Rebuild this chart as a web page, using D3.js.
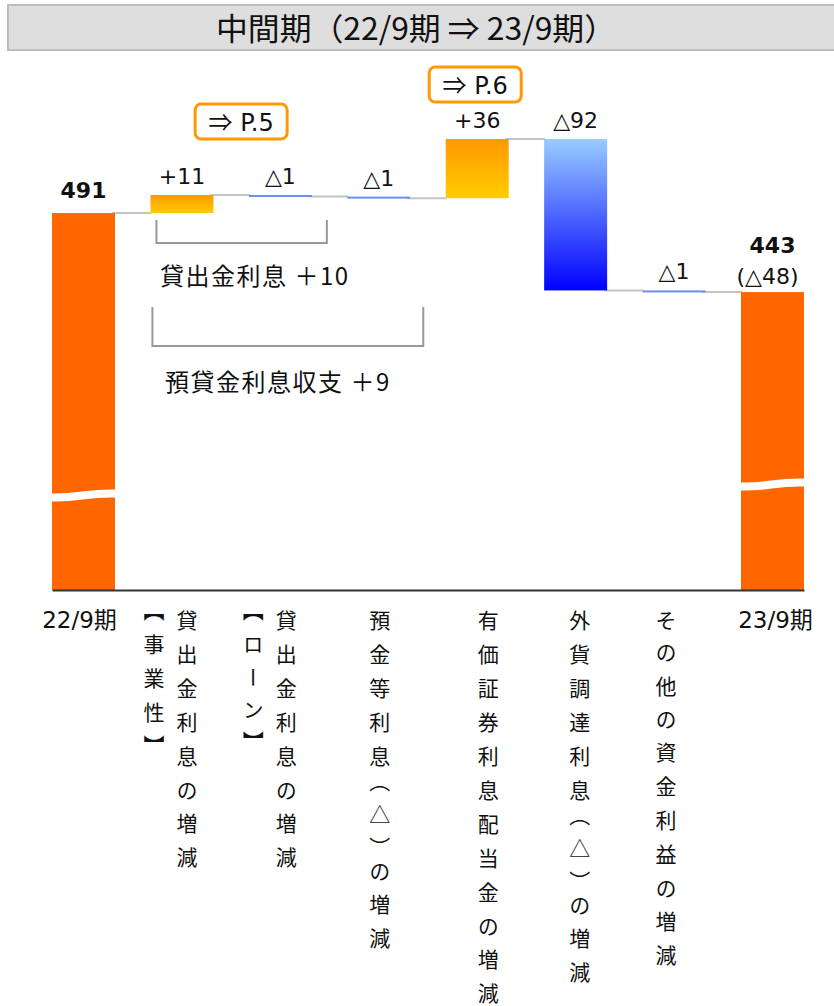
<!DOCTYPE html>
<html>
<head>
<meta charset="utf-8">
<script src="https://cdn.jsdelivr.net/npm/d3@7"></script>
<style>
  body { margin: 0; background: #fff; }
  text { font-family: "DejaVu Sans", "Noto Sans CJK JP", sans-serif; fill: #111; }
  .jp { font-family: "Noto Sans CJK JP", sans-serif; }
  .vlabel {
    writing-mode: vertical-rl;
    font-family: "Noto Sans CJK JP", sans-serif;
    font-size: 21px;
    letter-spacing: 13px;
    font-feature-settings: "vpal";
  }
</style>
</head>
<body>
<div id="chart"></div>
<script>
var title = "中間期（22/9期 ⇒ 23/9期）";

var categories = ["22/9期", "貸出金利息の増減", "貸出金利息の増減", "預金等利息（△）の増減",
  "有価証券利息配当金の増減", "外貨調達利息（△）の増減", "その他の資金利益の増減", "23/9期"];
var prefixes = ["", "【事業性】", "【ローン】", "", "", "", "", ""];
var isTotal = [true, false, false, false, false, false, false, true];
var values = [491, 11, -1, -1, 36, -92, -1, 443];
var valueLabels = ["491", "+11", "△1", "△1", "+36", "△92", "△1", "443"];
var totalChange = "(△48)";

var callouts = [
  { from: 1, to: 2, page: "P.5" },
  { from: 4, to: 4, page: "P.6" }
];
var brackets = [
  { from: 1, to: 2, text: "貸出金利息 ＋10" },
  { from: 1, to: 3, text: "預貸金利息収支 ＋9" }
];

var svgWidth = 834;
var svgHeight = 1006;

var svg = d3.select("#chart")
  .append("svg")
  .attr("width", svgWidth)
  .attr("height", svgHeight);

var defs = svg.append("defs");

function addGradient(id, top, bottom) {
  var g = defs.append("linearGradient")
    .attr("id", id)
    .attr("x1", 0).attr("y1", 0)
    .attr("x2", 0).attr("y2", 1);
  g.append("stop").attr("offset", "0%").attr("stop-color", top);
  g.append("stop").attr("offset", "100%").attr("stop-color", bottom);
}
addGradient("gradUp", "#ff9900", "#ffcc00");
addGradient("gradDown", "#99ccff", "#0000ff");

// title bar
svg.append("rect")
  .attr("x", 8).attr("y", 5)
  .attr("width", 840).attr("height", 45)
  .attr("fill", "#dedede")
  .attr("stroke", "#bcbcbc")
  .attr("stroke-width", 2);

svg.append("text")
  .attr("class", "jp")
  .attr("x", 416).attr("y", 40)
  .attr("text-anchor", "middle")
  .attr("font-size", "31px")
  .attr("textLength", 400)
  .attr("lengthAdjust", "spacingAndGlyphs")
  .text(title);

// running totals for the waterfall
var steps = [];
var running = 0;
values.forEach(function(v, i) {
  if (isTotal[i]) {
    steps.push({ i: i, start: null, end: v, value: v });
    running = v;
  } else {
    steps.push({ i: i, start: running, end: running + v, value: v });
    running += v;
  }
});

var x = d3.scaleBand()
  .domain(d3.range(categories.length))
  .range([52, 804])
  .paddingInner(0.36)
  .paddingOuter(0);

// the axis is broken, so the bottom of the scale is not zero
var y = d3.scaleLinear()
  .domain([262, 536])
  .range([590, 139]);

var bw = x.bandwidth();

// connectors
svg.selectAll(".conn")
  .data(steps.slice(0, -1))
  .enter()
  .append("line")
  .attr("x1", d => x(d.i) + bw - 3)
  .attr("x2", d => x(d.i + 1) + 1)
  .attr("y1", d => y(d.end))
  .attr("y2", d => y(d.end))
  .attr("stroke", "#c4c4c4")
  .attr("stroke-width", 2);

function barFill(d) {
  if (d.start === null) return "#ff6600";
  if (d.value > 0) return "url(#gradUp)";
  if (d.value < -5) return "url(#gradDown)";
  return "#6a8fe8";
}

svg.selectAll(".bar")
  .data(steps)
  .enter()
  .append("rect")
  .attr("x", d => x(d.i))
  .attr("width", bw)
  .attr("y", function(d) {
    if (d.start === null) return y(d.end);
    return Math.min(y(d.start), y(d.end));
  })
  .attr("height", function(d) {
    if (d.start === null) return y.range()[0] - y(d.end);
    return Math.max(2, Math.abs(y(d.start) - y(d.end)));
  })
  .attr("fill", barFill);

// break marks on the total bars
var breakY = { 0: 495.5, 7: 484.5 };
steps.filter(d => d.start === null).forEach(function(d) {
  var x0 = x(d.i) - 1;
  var x1 = x(d.i) + bw + 1;
  var yb = breakY[d.i];
  svg.append("path")
    .attr("d", `M${x0},${yb + 2} C${x0 + bw * 0.45},${yb + 3} ${x0 + bw * 0.55},${yb - 3} ${x1},${yb - 2}`)
    .attr("fill", "none")
    .attr("stroke", "#fff")
    .attr("stroke-width", 8);
});

// x axis line
var bottomAxis = d3.axisBottom(x).tickSize(0).tickFormat("");
var xAxis = svg.append("g")
  .attr("transform", `translate(0, ${y.range()[0]})`)
  .call(bottomAxis);
xAxis.select(".domain")
  .attr("stroke", "#333")
  .attr("stroke-width", 2);

// value labels
svg.selectAll(".val")
  .data(steps)
  .enter()
  .append("text")
  .attr("x", d => x(d.i) + bw / 2)
  .attr("y", function(d) {
    if (d.i === 0) return y(d.end) - 15;
    if (d.start === null) return y(d.end) - 39;
    return y(Math.max(d.start, d.end)) - 11;
  })
  .attr("text-anchor", "middle")
  .attr("font-size", "22px")
  .attr("font-weight", d => d.start === null ? "bold" : "normal")
  .text(d => valueLabels[d.i]);

svg.append("text")
  .attr("x", x(7) + bw / 2 - 5)
  .attr("y", y(values[7]) - 8)
  .attr("text-anchor", "middle")
  .attr("font-size", "22px")
  .text(totalChange);

// page reference boxes
var calloutPos = [
  { dx: 10, top: 104 },
  { dx: -2, top: 67 }
];
callouts.forEach(function(c, k) {
  var cx = (x(c.from) + x(c.to) + bw) / 2 + calloutPos[k].dx;
  var top = calloutPos[k].top;
  var g = svg.append("g");
  g.append("rect")
    .attr("x", cx - 46)
    .attr("y", top)
    .attr("width", 92)
    .attr("height", 35)
    .attr("rx", 6)
    .attr("fill", "#fff")
    .attr("stroke", "#ff9900")
    .attr("stroke-width", 3);
  var t = g.append("text")
    .attr("x", cx)
    .attr("y", top + 27)
    .attr("text-anchor", "middle")
    .attr("font-size", "24px");
  t.append("tspan").attr("class", "jp").text("⇒");
  t.append("tspan").text(" " + c.page);
});

// brackets under the loan bars
var bracketPos = [
  { left: 6, right: 15, top: 220, bottom: 243, textY: 285, textX: 160 },
  { left: 2, right: 13, top: 307, bottom: 346, textY: 391, textX: 165 }
];
brackets.forEach(function(b, k) {
  var p = bracketPos[k];
  var xl = x(b.from) + p.left;
  var xr = x(b.to) + bw + p.right;
  svg.append("path")
    .attr("d", `M${xl},${p.top} V${p.bottom} H${xr} V${p.top}`)
    .attr("fill", "none")
    .attr("stroke", "#999")
    .attr("stroke-width", 2);
  svg.append("text")
    .attr("class", "jp")
    .attr("x", p.textX)
    .attr("y", p.textY)
    .attr("font-size", "24px")
    .attr("letter-spacing", "1.5px")
    .text(b.text);
});

// category labels
var labelShift = [-4, 5, 6, 1, 11, 4, -8, 3];
categories.forEach(function(c, i) {
  var cx = x(i) + bw / 2 + labelShift[i];
  if (isTotal[i]) {
    svg.append("text")
      .attr("x", cx)
      .attr("y", 628)
      .attr("text-anchor", "middle")
      .attr("font-size", "23px")
      .text(c);
    return;
  }
  svg.append("text")
    .attr("class", "vlabel")
    .attr("x", cx)
    .attr("y", 610)
    .text(c);
  if (prefixes[i]) {
    svg.append("text")
      .attr("class", "vlabel")
      .attr("x", cx - 33)
      .attr("y", 610)
      .text(prefixes[i]);
  }
});
</script>
</body>
</html>
